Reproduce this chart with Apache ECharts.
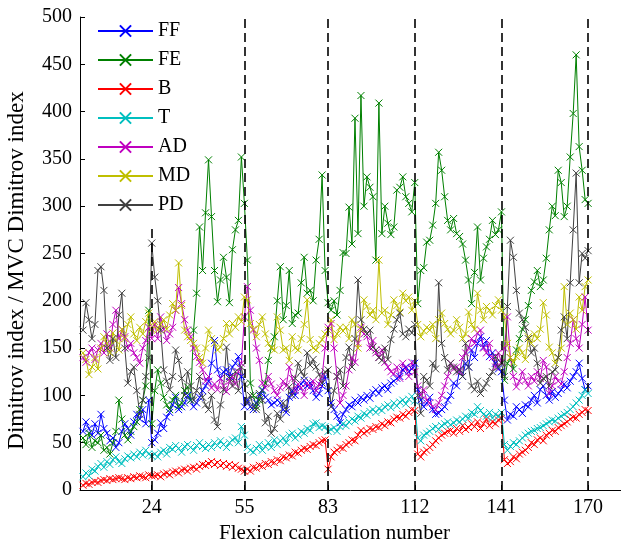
<!DOCTYPE html>
<html><head><meta charset="utf-8">
<script src="https://cdn.jsdelivr.net/npm/echarts@6/dist/echarts.min.js"></script>
<style>html,body{margin:0;padding:0;background:#fff}#chart{width:621px;height:552px}</style>
</head><body><div id="chart"></div>
<script>
const seriesNames = ['FF', 'FE', 'B', 'T', 'AD', 'MD', 'PD'];
const seriesColors = ['#0000ff', '#008000', '#ff0000', '#00bfbf', '#bf00bf', '#bfbf00', '#404040'];

const FF = [
  62, 72, 65, 58, 70, 60, 80, 65, 60, 52, 55, 45, 50, 62, 70, 65, 58, 72, 80, 75, 85, 70, 95, 50,
  53, 60, 71, 65, 77, 82, 90, 98, 85, 88, 92, 100, 95, 88, 92, 98, 105, 110, 115, 134, 158, 127, 118, 125, 127, 120, 130, 134, 141, 120, 88,
  95, 88, 85, 92, 100, 106, 98, 95, 90, 92, 95, 92, 85, 82, 98, 105, 100, 109, 112, 116, 110, 113, 105, 98, 102, 110, 120, 105,
  92, 85, 78, 71, 80, 85, 90, 88, 95, 92, 98, 95, 100, 97, 103, 106, 102, 108, 110, 106, 113, 115, 118, 120, 127, 130, 125, 128, 134,
  106, 95, 88, 92, 98, 85, 80, 81, 85, 88, 95, 100, 113, 110, 127, 120, 134, 130, 148, 140, 155, 162, 151, 158, 141, 145, 134, 128, 125,
  95, 74, 80, 78, 88, 85, 81, 90, 88, 95, 100, 92, 106, 110, 100, 95, 104, 98, 102, 106, 112, 108, 115, 120, 125, 134, 118, 106, 110
];
const FE = [
  55, 48, 60, 45, 52, 50, 58, 42, 45, 38, 50, 62, 95, 75, 58, 53, 62, 67, 72, 85, 95, 110, 190, 70,
  105, 127, 113, 98, 90, 85, 95, 100, 88, 92, 105, 109, 95, 169, 208, 278, 232, 293, 349, 289, 232, 199, 222, 246, 225, 198, 254, 275, 285, 352, 303,
  243, 113, 100, 88, 95, 105, 113, 137, 150, 162, 200, 236, 180, 195, 232, 176, 185, 187, 219, 246, 208, 211, 200, 243, 265, 333, 232, 198,
  190, 200, 185, 211, 251, 250, 299, 260, 393, 271, 417, 300, 331, 320, 310, 243, 409, 271, 300, 282, 270, 278, 317, 320, 331, 310, 303, 294, 325,
  197, 232, 235, 262, 264, 280, 303, 357, 338, 310, 285, 275, 287, 271, 268, 260, 243, 222, 197, 230, 278, 222, 245, 257, 265, 285, 270, 275, 294,
  116, 134, 140, 128, 148, 160, 170, 180, 195, 211, 220, 232, 215, 222, 245, 275, 300, 290, 338, 325, 289, 300, 352, 398, 460, 363, 338, 307, 303
];
const B = [
  5, 7, 6, 8, 9, 8, 10, 11, 10, 12, 11, 12, 13, 12, 11, 13, 12, 14, 13, 15, 14, 13, 16, 15,
  15, 16, 14, 17, 18, 16, 19, 20, 18, 21, 22, 20, 23, 24, 22, 25, 27, 26, 28, 30, 27, 29, 26, 28, 25, 27, 24, 26, 23, 22, 20,
  22, 20, 24, 23, 26, 25, 28, 27, 30, 29, 32, 31, 35, 34, 37, 36, 40, 39, 42, 44, 43, 46, 48, 47, 50, 52, 53, 22,
  35, 40, 42, 45, 44, 48, 50, 53, 52, 58, 63, 60, 62, 65, 64, 67, 66, 70, 68, 72, 71, 75, 77, 76, 80, 78, 82, 85, 84,
  38, 35, 40, 42, 45, 48, 52, 55, 58, 60, 62, 63, 60, 65, 62, 68, 64, 66, 70, 67, 72, 65, 70, 75, 68, 72, 70, 74, 76,
  32, 28, 30, 35, 33, 38, 40, 42, 45, 50, 48, 53, 55, 52, 58, 60, 63, 62, 66, 68, 70, 72, 75, 77, 76, 80, 82, 85, 84
];
const T = [
  14, 18, 15, 22, 20, 25, 28, 24, 30, 27, 32, 35, 30, 28, 33, 36, 34, 38, 35, 40, 37, 42, 38, 36,
  38, 35, 40, 42, 38, 45, 43, 47, 44, 40, 46, 48, 45, 42, 47, 50, 46, 44, 48, 45, 50, 47, 52, 48, 45, 50, 53, 55, 50, 67, 58,
  45, 42, 40, 44, 48, 42, 46, 50, 45, 53, 48, 52, 55, 50, 58, 60, 55, 58, 62, 60, 65, 63, 70, 71, 66, 68, 67, 62,
  64, 66, 62, 67, 70, 68, 72, 75, 73, 78, 76, 81, 79, 83, 85, 82, 86, 84, 88, 90, 87, 92, 89, 93, 95, 91, 96, 99, 94,
  55, 52, 58, 60, 62, 65, 67, 64, 68, 70, 72, 69, 71, 74, 72, 75, 78, 76, 82, 80, 88, 84, 80, 78, 82, 76, 80, 78, 82,
  48, 42, 46, 50, 48, 52, 55, 58, 60, 62, 63, 65, 66, 68, 70, 72, 74, 73, 76, 78, 80, 82, 85, 88, 92, 95, 100, 106, 102
];
const AD = [
  140, 135, 145, 150, 138, 148, 155, 145, 165, 150, 175, 190, 160, 170, 162, 150, 155, 145, 140, 134, 150, 158, 172, 160,
  175, 160, 183, 170, 158, 165, 172, 190, 214, 197, 180, 169, 162, 150, 141, 135, 127, 115, 120, 108, 112, 106, 118, 110, 104, 115, 120, 112, 125, 134, 183,
  215, 190, 169, 150, 137, 113, 108, 120, 112, 105, 100, 108, 115, 110, 130, 118, 105, 112, 108, 100, 113, 109, 115, 105, 112, 120, 150, 172,
  176, 150, 120, 92, 100, 110, 127, 140, 135, 155, 172, 165, 162, 150, 158, 145, 140, 148, 135, 130, 125, 123, 130, 118, 134, 128, 120, 135, 125,
  110, 100, 106, 95, 92, 88, 85, 92, 100, 110, 120, 134, 128, 130, 125, 140, 145, 150, 160, 155, 166, 169, 150, 145, 155, 140, 130, 145, 135,
  150, 183, 140, 120, 109, 115, 125, 116, 110, 120, 115, 125, 118, 137, 130, 102, 110, 120, 115, 112, 125, 140, 155, 180, 160, 150, 175, 204, 169
];
const MD = [
  145, 138, 122, 130, 140, 128, 150, 162, 155, 145, 166, 158, 148, 170, 160, 175, 183, 165, 158, 172, 165, 178, 187, 170,
  178, 169, 175, 180, 170, 185, 197, 190, 240, 195, 169, 162, 158, 155, 150, 140, 134, 150, 169, 160, 155, 148, 151, 160, 176, 165, 176, 172, 183, 178, 204,
  201, 176, 170, 162, 175, 183, 165, 155, 150, 148, 183, 169, 148, 150, 137, 162, 150, 148, 160, 175, 201, 159, 150, 148, 155, 159, 165, 169,
  180, 159, 165, 172, 168, 172, 160, 180, 175, 150, 170, 201, 194, 185, 190, 180, 243, 187, 190, 175, 185, 201, 195, 188, 208, 200, 204, 190, 200,
  175, 162, 168, 172, 169, 175, 160, 180, 187, 176, 170, 165, 169, 180, 172, 160, 165, 188, 175, 170, 208, 190, 180, 194, 190, 185, 195, 201, 190,
  183, 155, 140, 135, 141, 150, 145, 138, 162, 155, 165, 160, 170, 198, 185, 151, 145, 134, 140, 150, 215, 175, 187, 180, 170, 204, 190, 215, 222
];
const PD = [
  169, 198, 180, 160, 175, 232, 236, 211, 150, 137, 160, 140, 185, 208, 150, 113, 125, 130, 105, 80, 95, 120, 140, 261,
  225, 200, 169, 127, 115, 106, 120, 148, 137, 118, 100, 125, 110, 95, 105, 120, 98, 90, 85, 100, 74, 67, 90, 106, 151, 118, 110, 125, 105, 130, 112,
  92, 100, 88, 85, 102, 95, 71, 78, 60, 65, 81, 75, 92, 85, 109, 100, 118, 134, 125, 120, 145, 132, 138, 130, 122, 113, 125, 127,
  88, 105, 120, 127, 110, 140, 151, 130, 160, 222, 180, 170, 165, 169, 151, 148, 140, 137, 150, 138, 159, 170, 180, 187, 165, 162, 170, 166, 175,
  100, 81, 120, 116, 110, 134, 128, 219, 155, 140, 127, 134, 130, 125, 127, 120, 155, 130, 110, 106, 115, 102, 108, 113, 120, 125, 141, 130, 134,
  120, 194, 264, 246, 211, 187, 180, 172, 160, 145, 150, 134, 113, 118, 120, 110, 125, 127, 140, 169, 183, 160, 219, 275, 335, 219, 250, 245, 253
];

const xTickLabels = [24, 55, 83, 112, 141, 170];
const boundaryTops = [280, 500, 500, 500, 500, 500];

const allSeries = [FF, FE, B, T, AD, MD, PD];
const FONT = "'Liberation Serif', 'DejaVu Serif', serif";
const XMARK = 'path://M0,0L10,10M10,0L0,10';

const chart = echarts.init(document.getElementById('chart'), null, { renderer: 'canvas' });

const lineSeries = seriesNames.map((name, s) => ({
  name: name,
  type: 'line',
  data: allSeries[s].map((v, i) => [i + 1, v]),
  symbol: XMARK,
  symbolSize: 7,
  showAllSymbol: true,
  lineStyle: { width: 1, color: seriesColors[s] },
  itemStyle: { color: 'rgba(0,0,0,0)', borderColor: seriesColors[s], borderWidth: 1 },
  emphasis: { disabled: true },
  animation: false
}));

lineSeries.push({
  name: 'boundaries',
  type: 'line',
  data: [],
  silent: true,
  animation: false,
  markLine: {
    silent: true,
    animation: false,
    symbol: ['none', 'none'],
    label: { show: false },
    lineStyle: { color: '#000', width: 1.6, type: [9, 5] },
    emphasis: { disabled: true },
    data: xTickLabels.map((b, i) => [{ coord: [b, 0] }, { coord: [b, boundaryTops[i]] }])
  }
});

chart.setOption({
  animation: false,
  backgroundColor: '#fff',
  grid: { left: 80, right: 0, top: 17, bottom: 62, containLabel: false, outerBoundsMode: 'none' },
  legend: {
    data: seriesNames,
    orient: 'vertical',
    left: 92,
    top: 16,
    itemWidth: 55,
    itemHeight: 14,
    itemGap: 9,
    textStyle: { fontFamily: FONT, fontSize: 20, color: '#000', lineHeight: 20 },
    selectedMode: false
  },
  xAxis: {
    type: 'value',
    min: 0,
    max: 181,
    name: 'Flexion calculation number',
    nameLocation: 'middle',
    nameGap: 33,
    nameTextStyle: { fontFamily: FONT, fontSize: 21, color: '#000', padding: [0, 32, 0, 0] },
    axisLine: { show: true, onZero: false, lineStyle: { color: '#000', width: 1 } },
    axisTick: { show: true, inside: true, length: 5, customValues: xTickLabels, lineStyle: { color: '#000' } },
    axisLabel: { customValues: xTickLabels, fontFamily: FONT, fontSize: 20, color: '#000', margin: 8 },
    splitLine: { show: false }
  },
  yAxis: {
    type: 'value',
    min: 0,
    max: 500,
    interval: 50,
    name: 'Dimitrov index / MVC Dimitrov index',
    nameLocation: 'middle',
    nameGap: 52,
    nameTextStyle: { fontFamily: FONT, fontSize: 23, color: '#000', padding: [0, 34, 0, 0] },
    axisLine: { show: true, lineStyle: { color: '#000', width: 1 } },
    axisTick: { show: true, inside: true, length: 5, lineStyle: { color: '#000' } },
    axisLabel: { fontFamily: FONT, fontSize: 20, color: '#000', margin: 8 },
    splitLine: { show: false }
  },
  series: lineSeries
});
</script>
</body></html>
